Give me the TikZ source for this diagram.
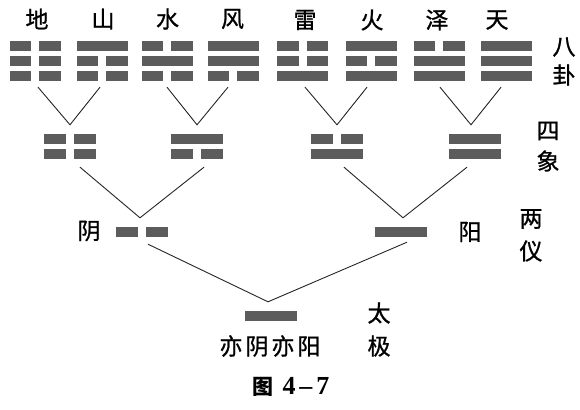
\documentclass[tikz,border=0pt]{standalone}
\usepackage{fontspec}
\usetikzlibrary{calc}
\newfontfamily\cjk[FakeBold=1]{Noto Sans CJK SC}
\newfontfamily\cjkb{Noto Sans CJK SC}
\newfontfamily\serifb{Liberation Serif}
\definecolor{bargray}{RGB}{92,92,92}
\tikzset{
  barfill/.style={fill=bargray},
  guabox/.style={inner sep=0pt, minimum width=51pt, minimum height=40pt},
  bibox/.style={inner sep=0pt, minimum width=52pt, minimum height=25pt},
  monobox/.style={inner sep=0pt, minimum width=52pt, minimum height=10pt},
  lbl/.style={font=\cjk\fontsize{23}{23}\selectfont, inner sep=0pt},
  link/.style={draw=black!85, line width=0.9pt},
}
\newcommand\mysolid[3]{\fill[barfill] ({#1-#3/2},{#2-5}) rectangle ({#1+#3/2},{#2+5});}
\newcommand\mybroken[3]{\fill[barfill] ({#1-#3/2},{#2-5}) rectangle ({#1-4},{#2+5});
  \fill[barfill] ({#1+4},{#2-5}) rectangle ({#1+#3/2},{#2+5});}
\newcommand\myyao[4]{\ifnum#1=1 \mysolid{#2}{#3}{#4}\else\mybroken{#2}{#3}{#4}\fi}
% name, cx, cy, top, mid, bottom
\newcommand\mygua[6]{\node[guabox] (#1) at (#2,#3) {};
  \myyao{#4}{#2}{#3-15}{51}\myyao{#5}{#2}{#3}{51}\myyao{#6}{#2}{#3+15}{51}}
% name, cx, cy, top, bottom
\newcommand\mybi[5]{\node[bibox] (#1) at (#2,#3) {};
  \myyao{#4}{#2}{#3-7.5}{52}\myyao{#5}{#2}{#3+7.5}{52}}
\begin{document}
\begin{tikzpicture}[x=1pt,y=-1pt]
\useasboundingbox[fill=white] (0,0) rectangle (580,409);
% trigrams
\mygua{t1}{35}{61.5}{0}{0}{0}
\mygua{t2}{102}{61.5}{1}{0}{0}
\mygua{t3}{167}{61.5}{0}{1}{0}
\mygua{t4}{233}{61.5}{1}{1}{0}
\mygua{t5}{302.5}{61.5}{0}{0}{1}
\mygua{t6}{371}{61.5}{1}{0}{1}
\mygua{t7}{439}{61.5}{0}{1}{1}
\mygua{t8}{506.5}{61.5}{1}{1}{1}
% bigrams
\mybi{s1}{69.5}{146}{0}{0}
\mybi{s2}{196.5}{146}{1}{0}
\mybi{s3}{336.5}{146}{0}{1}
\mybi{s4}{475}{146}{1}{1}
% monograms
\node[monobox] (y1) at (142,232) {};
\mybroken{142}{232}{52}
\node[monobox] (y2) at (400.5,232) {};
\mysolid{400.5}{232}{52}
\node[monobox] (tj) at (271,316) {};
\mysolid{271}{316}{52}
% connectors
\draw[link] ($(t1.south)+(3,5.5)$) -- ($(s1.north)+(0.5,-8.5)$) -- ($(t2.south)+(-2,5.5)$);
\draw[link] ($(t3.south)+(0,5.5)$) -- ($(s2.north)+(0.5,-8.5)$) -- ($(t4.south)+(-5,5.5)$);
\draw[link] ($(t5.south)+(2.5,5.5)$) -- ($(s3.north)+(0.5,-8.5)$) -- ($(t6.south)+(-4,5.5)$);
\draw[link] ($(t7.south)+(1,5.5)$) -- ($(s4.north)+(-4,-8.5)$) -- ($(t8.south)+(-5.5,5.5)$);
\draw[link] ($(s1.south)+(10.5,8.5)$) -- ($(y1.north)+(-2,-9)$) -- ($(s2.south)+(7.5,8.5)$);
\draw[link] ($(s3.south)+(7.5,8.5)$) -- ($(y2.north)+(2.5,-9)$) -- ($(s4.south)+(-8,8.5)$);
\draw[link] ($(y1.south)+(6,7)$) -- ($(tj.north)+(-3,-9)$) -- ($(y2.south)+(6.5,5)$);
% labels
\node[lbl] (l1) at (37,19) {地};
\node[lbl] (l2) at (103,19) {山};
\node[lbl] (l3) at (167.5,19) {水};
\node[lbl] (l4) at (232.5,19) {风};
\node[lbl] (l5) at (305,20) {雷};
\node[lbl] (l6) at (372,20) {火};
\node[lbl] (l7) at (437,20) {泽};
\node[lbl] (l8) at (497,20) {天};
\node[lbl] (ba) at (564,47) {八};
\node[lbl] (gua) at (564,75) {卦};
\node[lbl] (si) at (548,131) {四};
\node[lbl] (xiang) at (548,161) {象};
\node[lbl] (liang) at (531,219) {两};
\node[lbl] (yi) at (531,251) {仪};
\node[lbl] (yinl) at (89,231) {阴};
\node[lbl] (yangl) at (470,232) {阳};
\node[lbl] (tai) at (379,313) {太};
\node[lbl] (ji) at (379,346) {极};
\node[lbl] (yy) at (270,346) {亦\hspace{3pt}阴\hspace{3pt}亦\hspace{3pt}阳};
\node[inner sep=0pt] (cap) at (291,387) {{\cjkb\bfseries\fontsize{21}{21}\selectfont 图}\hspace{9pt}{\serifb\bfseries\fontsize{26}{26}\selectfont 4\hspace{4pt}–\hspace{4pt}7}};
\end{tikzpicture}
\end{document}
